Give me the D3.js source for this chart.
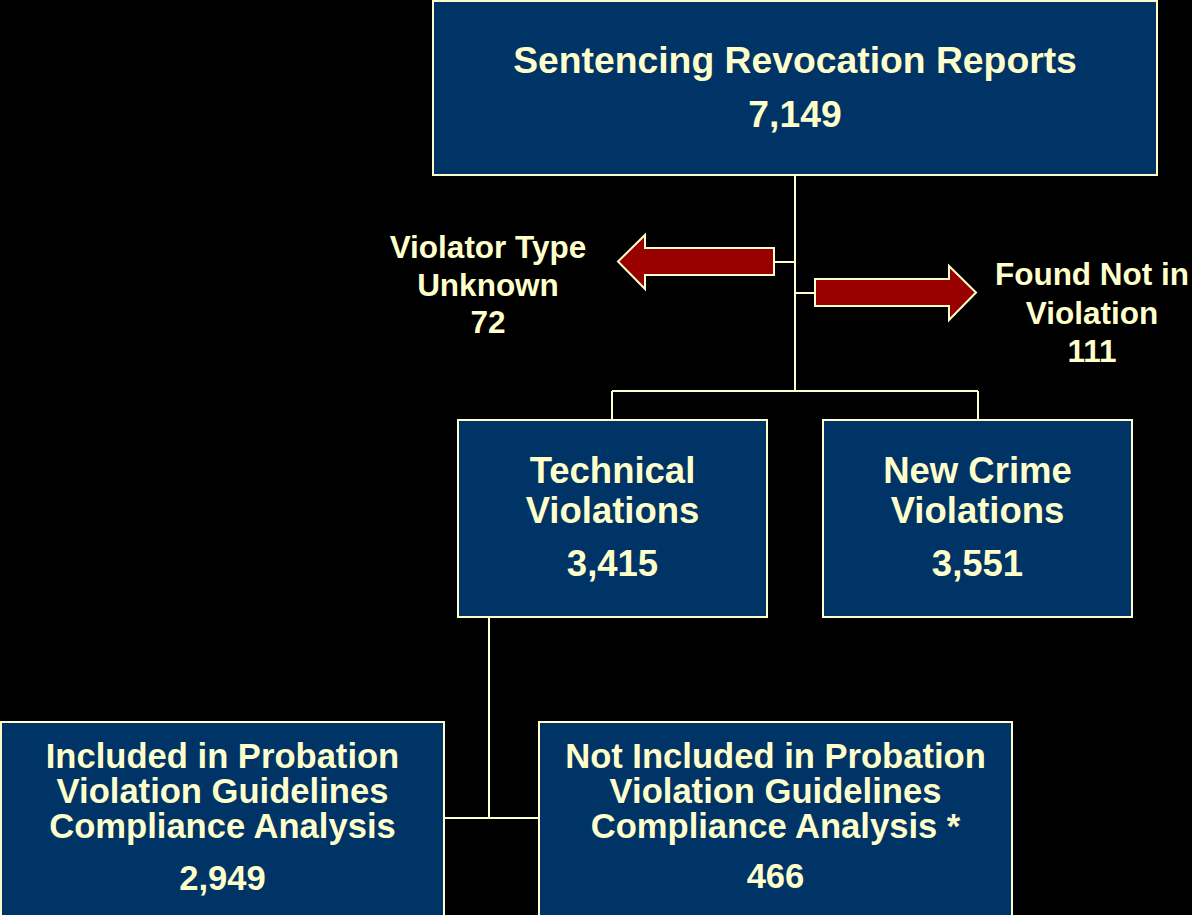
<!DOCTYPE html>
<html>
<head>
<meta charset="utf-8">
<script src="https://cdn.jsdelivr.net/npm/d3@7"></script>
<style>
  html, body { margin: 0; padding: 0; background: #000; overflow: hidden; }
  text { font-family: "Liberation Sans", Arial, sans-serif; font-weight: bold; fill: #ffffcc; }
</style>
</head>
<body>
<div class="flow"></div>
<script>
var width = 1192,
    height = 915;

// data
var boxLabels = [
    ["Sentencing Revocation Reports"],
    ["Technical", "Violations"],
    ["New Crime", "Violations"],
    ["Included in Probation", "Violation Guidelines", "Compliance Analysis"],
    ["Not Included in Probation", "Violation Guidelines", "Compliance Analysis *"]
];
var boxValues = [7149, 3415, 3551, 2949, 466];
var sideLabels = [["Violator Type", "Unknown"], ["Found Not in", "Violation"]];
var sideValues = [72, 111];

// layout (x0, y0, x1, y1, font size, first baseline, line step, value baseline)
var boxLayout = [
    [433, 1, 1157, 175, 37.3, 73, 40, 127],
    [458, 420, 767, 617, 36.5, 483, 40, 576],
    [823, 420, 1132, 617, 36.5, 483, 40, 576],
    [1, 722, 444, 935, 34.6, 768, 35, 890],
    [539, 722, 1012, 935, 34.6, 768, 35, 888]
];
// side arrows: direction, shaft end near trunk, shaft y0, y1, head base x, head y0, y1, tip x
var arrowLayout = [
    [-1, 774, 248, 275, 645, 235, 289, 618],
    [1, 815, 279, 306, 949, 266, 320, 976]
];
var sideText = [[488, 258, 37.5], [1092, 285, 38.5]];

var fmt = d3.format(",");
var cream = "#ffffcc";

var svg = d3.select(".flow").append("svg")
    .attr("width", width)
    .attr("height", height);

// connectors
var links = [
    [[795, 175], [795, 391]],
    [[612, 391], [978, 391]],
    [[612, 391], [612, 420]],
    [[978, 391], [978, 420]],
    [[774, 262], [795, 262]],
    [[795, 293], [815, 293]],
    [[489, 617], [489, 818]],
    [[444, 818], [539, 818]]
];
svg.selectAll(".link")
    .data(links)
    .enter()
    .append("path")
    .attr("class", "link")
    .attr("d", d3.line())
    .attr("stroke", cream)
    .attr("stroke-width", 2)
    .attr("fill", "none");

// arrows
svg.selectAll(".arrow")
    .data(arrowLayout)
    .enter()
    .append("path")
    .attr("class", "arrow")
    .attr("d", function (a) {
        var mid = (a[2] + a[3]) / 2;
        return d3.line()([
            [a[1], a[2]], [a[4], a[2]], [a[4], a[5]], [a[7], mid],
            [a[4], a[6]], [a[4], a[3]], [a[1], a[3]]
        ]) + "Z";
    })
    .attr("fill", "#990000")
    .attr("stroke", cream)
    .attr("stroke-width", 2);

// boxes
var boxes = svg.selectAll(".box")
    .data(boxLabels)
    .enter()
    .append("g")
    .attr("class", "box");

boxes.append("rect")
    .attr("x", function (d, i) { return boxLayout[i][0]; })
    .attr("y", function (d, i) { return boxLayout[i][1]; })
    .attr("width", function (d, i) { return boxLayout[i][2] - boxLayout[i][0]; })
    .attr("height", function (d, i) { return boxLayout[i][3] - boxLayout[i][1]; })
    .attr("fill", "#003366")
    .attr("stroke", cream)
    .attr("stroke-width", 2);

boxes.each(function (d, i) {
    var L = boxLayout[i];
    var cx = (L[0] + L[2]) / 2;
    var g = d3.select(this);
    d.forEach(function (line, j) {
        g.append("text")
            .attr("x", cx)
            .attr("y", L[5] + j * L[6])
            .attr("text-anchor", "middle")
            .style("font-size", L[4] + "px")
            .text(line);
    });
    g.append("text")
        .attr("x", cx)
        .attr("y", L[7])
        .attr("text-anchor", "middle")
        .style("font-size", L[4] + "px")
        .text(fmt(boxValues[i]));
});

// side labels
sideLabels.forEach(function (lines, i) {
    var t = sideText[i];
    lines.concat([fmt(sideValues[i])]).forEach(function (line, j) {
        svg.append("text")
            .attr("x", t[0])
            .attr("y", t[1] + j * t[2])
            .attr("text-anchor", "middle")
            .style("font-size", "31.5px")
            .text(line);
    });
});
</script>
</body>
</html>
